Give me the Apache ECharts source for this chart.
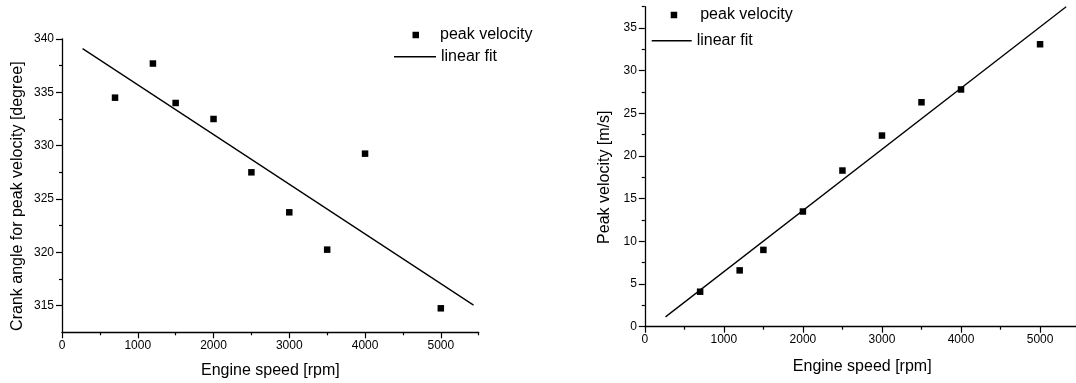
<!DOCTYPE html>
<html lang="en">
<head>
<meta charset="utf-8">
<title>Peak velocity vs engine speed</title>
<script src="https://cdn.jsdelivr.net/npm/echarts@6/dist/echarts.min.js"></script>
<style>
  html, body { margin: 0; padding: 0; background: #fff; }
  #chartDiv { width: 1076px; height: 383px; }
</style>
</head>
<body>
<div id="chartDiv"></div>
<script type="text/javascript">
// measured points (engine speed in rpm)
var speeds = [700, 1200, 1500, 2000, 2500, 3000, 3500, 4000, 5000];
var crankAngle = [334.5, 337.7, 334.0, 332.5, 327.5, 323.75, 320.25, 329.25, 314.75];
var peakVelocity = [4.1, 6.6, 9.0, 13.5, 18.3, 22.4, 26.3, 27.8, 33.1];

// linear fit end points
var angleFitX = [272, 5432];
var angleFitY = [339.1, 315.05];
var velFitX = [262, 5330];
var velFitY = [1.15, 37.5];

// tick labels / minor ticks
var speedTicks = [0, 1000, 2000, 3000, 4000, 5000];
var speedMinor = [500, 1500, 2500, 3500, 4500, 5500];
var angleTicks = [315, 320, 325, 330, 335, 340];
var angleMinor = [317.5, 322.5, 327.5, 332.5, 337.5];
var velTicks = [0, 5, 10, 15, 20, 25, 30, 35];
var velMinor = [2.5, 7.5, 12.5, 17.5, 22.5, 27.5, 32.5, 37.5];

var FONT = 'Liberation Sans, Arial, sans-serif';

function pairs(xs, ys) {
  var out = [];
  for (var i = 0; i < xs.length; i++) out.push([xs[i], ys[i]]);
  return out;
}

// main axis with labels + long ticks
function mainAxis(grid, min, max, ticks, name, gap, isY) {
  return {
    type: 'value', gridIndex: grid, min: min, max: max,
    position: isY ? 'left' : 'bottom',
    name: name, nameLocation: 'middle', nameGap: gap,
    nameTextStyle: {
      fontFamily: FONT, fontSize: 16, color: '#000',
      padding: isY ? [0, 21, 0, 0] : 0
    },
    axisLine: { show: true, lineStyle: { color: '#000', width: 1.3 } },
    axisTick: { show: true, length: 6, customValues: ticks, lineStyle: { color: '#000', width: 1.2 } },
    axisLabel: {
      customValues: ticks, margin: isY ? 8 : 7,
      fontFamily: FONT, fontSize: 12, color: '#000',
      formatter: function (v) { return String(v); }
    },
    splitLine: { show: false }
  };
}

// overlay axis for the short minor ticks
function minorAxis(grid, min, max, ticks, isY) {
  return {
    type: 'value', gridIndex: grid, min: min, max: max,
    position: isY ? 'left' : 'bottom', offset: 0,
    axisLine: { show: false },
    axisTick: { show: true, length: 3, customValues: ticks, lineStyle: { color: '#000', width: 1.2 } },
    axisLabel: { show: false },
    splitLine: { show: false }
  };
}

function legendItem(name, icon, left, top, w, h, pad) {
  return {
    data: [{ name: name, icon: icon, itemStyle: { color: '#000', opacity: 1 } }],
    left: left, top: top, padding: 0,
    itemWidth: w, itemHeight: h, selectedMode: false,
    textStyle: { fontFamily: FONT, fontSize: 16, color: '#000', lineHeight: 16, padding: [0, 0, 0, pad] }
  };
}

var chart = echarts.init(document.getElementById('chartDiv'));
var option = {
  animation: false,
  backgroundColor: '#fff',
  grid: [
    { left: 62, top: 39, width: 416.7, height: 293.3, outerBoundsMode: 'none' },
    { left: 644.8, top: 6.7, width: 434.8, height: 320, outerBoundsMode: 'none' }
  ],
  legend: [
    legendItem('peak velocity', 'rect', 412.5, 27, 6.5, 6.5, 16),
    legendItem('linear fit', 'rect', 394, 48.7, 42, 1.4, 0),
    legendItem('peak velocity', 'rect', 670.7, 7, 6.5, 6.5, 18),
    legendItem('linear fit', 'rect', 651.7, 32.7, 40, 1.4, 0)
  ],
  xAxis: [
    mainAxis(0, 0, 5500, speedTicks, 'Engine speed [rpm]', 30, false),
    minorAxis(0, 0, 5500, speedMinor, false),
    mainAxis(1, 0, 5500, speedTicks, 'Engine speed [rpm]', 32, false),
    minorAxis(1, 0, 5500, speedMinor, false)
  ],
  yAxis: [
    mainAxis(0, 312.5, 340, angleTicks, 'Crank angle for peak velocity [degree]', 36, true),
    minorAxis(0, 312.5, 340, angleMinor, true),
    mainAxis(1, 0, 37.5, velTicks, 'Peak velocity [m/s]', 32, true),
    minorAxis(1, 0, 37.5, velMinor, true)
  ],
  series: [
    {
      name: 'peak velocity', type: 'scatter', xAxisIndex: 0, yAxisIndex: 0,
      symbol: 'rect', symbolSize: 6.5, itemStyle: { color: '#000', opacity: 1 },
      data: pairs(speeds, crankAngle)
    },
    {
      name: 'linear fit', type: 'line', xAxisIndex: 0, yAxisIndex: 0,
      symbol: 'none', itemStyle: { color: '#000' },
      lineStyle: { color: '#000', width: 1.3 },
      data: pairs(angleFitX, angleFitY)
    },
    {
      name: 'peak velocity', type: 'scatter', xAxisIndex: 2, yAxisIndex: 2,
      symbol: 'rect', symbolSize: 6.5, itemStyle: { color: '#000', opacity: 1 },
      data: pairs(speeds, peakVelocity)
    },
    {
      name: 'linear fit', type: 'line', xAxisIndex: 2, yAxisIndex: 2,
      symbol: 'none', itemStyle: { color: '#000' },
      lineStyle: { color: '#000', width: 1.3 },
      data: pairs(velFitX, velFitY)
    }
  ]
};
chart.setOption(option);
</script>
</body>
</html>
